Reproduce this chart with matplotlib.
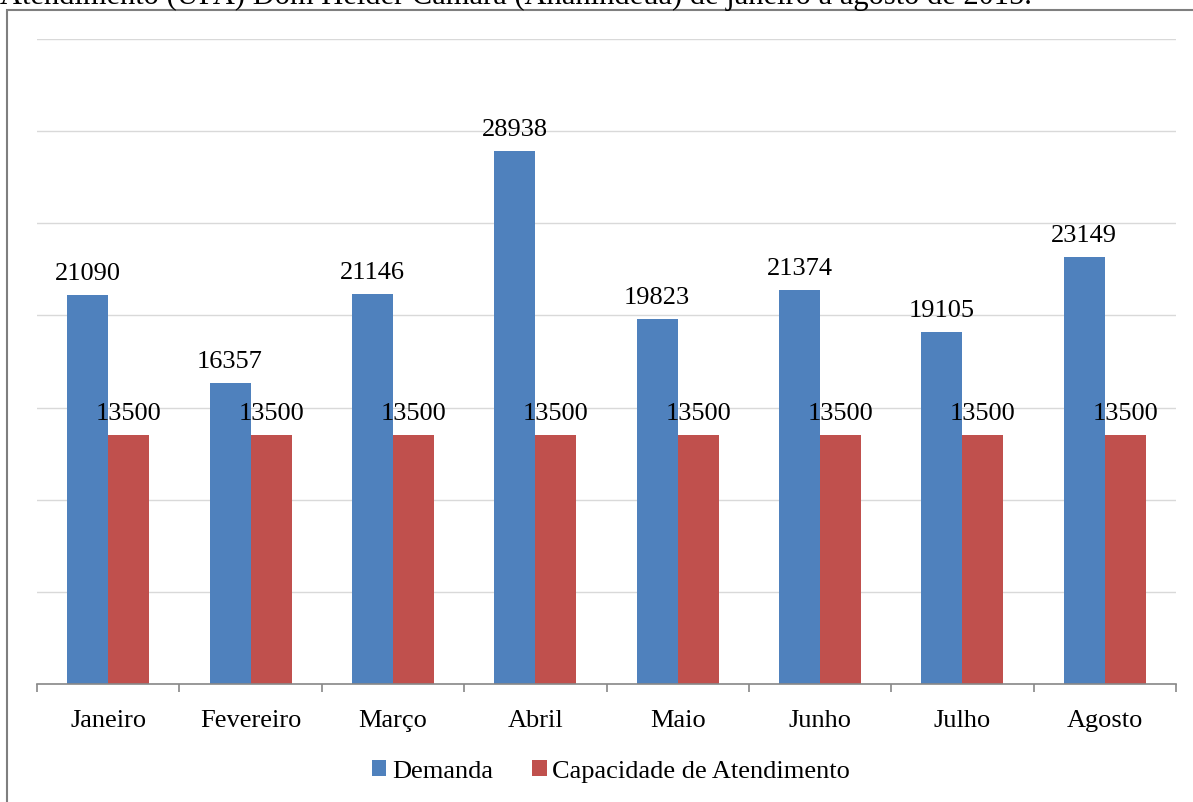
import matplotlib.pyplot as plt
import numpy as np
from matplotlib.patches import Rectangle

# Dados: demanda x capacidade de atendimento por mês (2015)
meses = ["Janeiro", "Fevereiro", "Março", "Abril", "Maio", "Junho", "Julho", "Agosto"]
demanda = [21090, 16357, 21146, 28938, 19823, 21374, 19105, 23149]
capacidade = [13500, 13500, 13500, 13500, 13500, 13500, 13500, 13500]

plt.rcParams["font.family"] = ["Liberation Serif", "DejaVu Serif"]

W, H = 1193, 803
fig = plt.figure(figsize=(W / 100, H / 100), dpi=100)
ax = fig.add_axes([37 / W, 1 - 685 / H, (1176 - 37) / W, (685 - 40) / H])

azul = "#4f81bd"
vermelho = "#c0504d"
x = np.arange(len(meses))
w = 0.288
fs = 19

b1 = ax.bar(x - w / 2, demanda, w, color=azul, label="Demanda")
b2 = ax.bar(x + w / 2, capacidade, w, color=vermelho, label="Capacidade de Atendimento")

for b, v in zip(b1, demanda):
    ax.text(b.get_x() + b.get_width() / 2, v + 600, str(v), ha="center", va="bottom", fontsize=fs)
for b, v in zip(b2, capacidade):
    ax.text(b.get_x() + b.get_width() / 2, v + 600, str(v), ha="center", va="bottom", fontsize=fs)

ax.set_xlim(-0.5, len(meses) - 0.5)
ax.set_ylim(0, 35000)
ax.set_yticks(np.arange(0, 35001, 5000))
ax.set_yticklabels([])
ax.tick_params(axis="y", length=0)
ax.grid(axis="y", color="#d9d9d9", linewidth=1)
ax.set_axisbelow(True)

ax.set_xticks(np.arange(-0.5, len(meses), 1.0))
ax.set_xticklabels([])
ax.set_xticks(x, minor=True)
ax.set_xticklabels(meses, minor=True, fontsize=fs)
ax.tick_params(axis="x", which="major", length=6, color="#888888", width=1.2)
ax.tick_params(axis="x", which="minor", length=0, pad=18)

for s in ["top", "right", "left"]:
    ax.spines[s].set_visible(False)
ax.spines["bottom"].set_color("#888888")
ax.spines["bottom"].set_linewidth(1.2)

ax.legend(loc="center", bbox_to_anchor=(611 / W, 1 - 772 / H), bbox_transform=fig.transFigure,
          ncol=2, frameon=False, fontsize=fs, handlelength=0.55, handleheight=0.55,
          handletextpad=0.2, columnspacing=1.5)

# moldura do gráfico e título cortado
fig.patches.append(Rectangle((7 / W, -0.1), 1.2, 1 - 11 / H + 0.1, transform=fig.transFigure,
                             fill=False, edgecolor="#7f7f7f", linewidth=1.5))
fig.text(0.0, 1 - 4 / H, "Atendimento (UPA) Dom Helder Câmara (Ananindeua) de janeiro a agosto de 2015.",
         ha="left", va="baseline", fontsize=22)

fig.savefig("out.png", dpi=100)
